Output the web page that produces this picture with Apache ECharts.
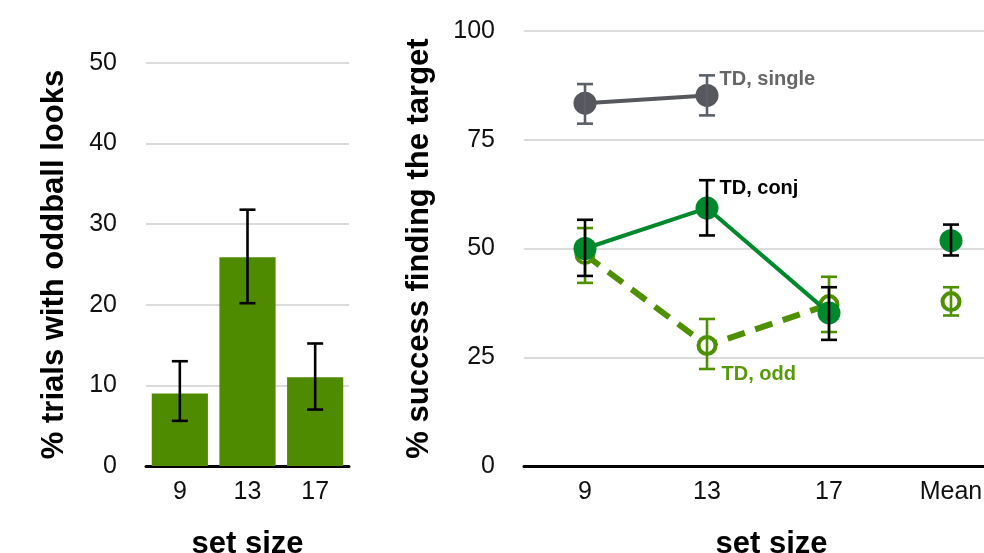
<!DOCTYPE html>
<html>
<head>
<meta charset="utf-8">
<script src="https://cdn.jsdelivr.net/npm/echarts@6/dist/echarts.min.js"></script>
<style>
  html, body { margin: 0; padding: 0; background: #fff; }
  #chart { width: 984px; height: 553px; }
</style>
</head>
<body>
<div id="chart"></div>
<script>
// left panel: % trials with oddball looks
const barCats = ['9', '13', '17'];
const oddballPct = [9.0, 25.9, 11.0];
const oddballLo = [5.6, 20.2, 7.0];
const oddballHi = [13.0, 31.8, 15.2];
const leftTicks = [0, 10, 20, 30, 40, 50];

// right panel: % success finding the target
const lineCats = ['9', '13', '17', 'Mean'];
const singleVals = [83.4, 85.2, '-', '-'];
const singleLo = [78.7, 80.6];
const singleHi = [87.8, 89.8];
const conjVals = [50.0, 59.3, 35.2, '-'];
const conjMean = ['-', '-', '-', 51.8];
const conjLo = [43.7, 53.0, 29.0, 48.4];
const conjHi = [56.6, 65.7, 41.1, 55.5];
const oddVals = [48.6, 27.7, 37.1, '-'];
const oddMean = ['-', '-', '-', 37.8];
const oddLo = [42.1, 22.3, 30.8, 34.6];
const oddHi = [54.7, 33.8, 43.5, 41.1];
const rightTicks = [0, 25, 50, 75, 100];

const FONT = 'Liberation Sans';
const BAR_GREEN = '#4e8b00';
const CONJ_GREEN = '#00882d';
const ODD_GREEN = '#4f9000';
const GREY = '#57585d';

const chart = echarts.init(document.getElementById('chart'));

// error bars as custom series
function errSeries(ax, lo, hi, color, z) {
  return {
    type: 'custom',
    xAxisIndex: ax,
    yAxisIndex: ax,
    z: z,
    silent: true,
    encode: { x: 0, y: [1, 2] },
    data: lo.map((l, i) => [i, l, hi[i]]),
    renderItem: function (params, api) {
      const top = api.coord([api.value(0), api.value(2)]);
      const bot = api.coord([api.value(0), api.value(1)]);
      const w = 8;
      const st = { stroke: color, lineWidth: 2.6 };
      return {
        type: 'group',
        children: [
          { type: 'line', shape: { x1: top[0], y1: top[1], x2: bot[0], y2: bot[1] }, style: st },
          { type: 'line', shape: { x1: top[0] - w, y1: top[1], x2: top[0] + w, y2: top[1] }, style: st },
          { type: 'line', shape: { x1: bot[0] - w, y1: bot[1], x2: bot[0] + w, y2: bot[1] }, style: st }
        ]
      };
    }
  };
}

function tagAt13(text, color, dy, dist) {
  return {
    show: true,
    position: 'right',
    distance: dist,
    offset: [0, dy],
    color: color,
    fontFamily: FONT,
    fontWeight: 'bold',
    fontSize: 20,
    formatter: p => (p.dataIndex === 1 ? text : '')
  };
}

const xAxisBase = {
  type: 'category',
  axisTick: { show: false },
  axisLine: { lineStyle: { color: '#000', width: 3 } },
  axisLabel: { color: '#111', fontFamily: FONT, fontSize: 25, margin: 14 },
  name: 'set size',
  nameLocation: 'middle',
  nameGap: 63,
  nameTextStyle: { color: '#000', fontFamily: FONT, fontWeight: 'bold', fontSize: 31 }
};

const yAxisBase = {
  type: 'value',
  axisLine: { show: false },
  axisTick: { show: false },
  splitLine: { lineStyle: { color: '#cfcfcf', width: 1.5 } },
  axisLabel: { color: '#111', fontFamily: FONT, fontSize: 25, margin: 29 },
  nameLocation: 'middle',
  nameTextStyle: { color: '#000', fontFamily: FONT, fontWeight: 'bold', fontSize: 31 }
};

const option = {
  animation: false,
  backgroundColor: '#fff',
  grid: [
    { left: 146, width: 203, top: 63, bottom: 87, outerBoundsMode: 'none' },
    { left: 524, width: 488, top: 31, bottom: 87, outerBoundsMode: 'none' }
  ],
  xAxis: [
    Object.assign({}, xAxisBase, { gridIndex: 0, data: barCats }),
    Object.assign({}, xAxisBase, {
      gridIndex: 1, data: lineCats,
      nameTextStyle: Object.assign({}, xAxisBase.nameTextStyle, { padding: [0, 0, 0, 7] })
    })
  ],
  yAxis: [
    Object.assign({}, yAxisBase, {
      gridIndex: 0, min: leftTicks[0], max: leftTicks[leftTicks.length - 1], interval: 10,
      name: '% trials with oddball looks', nameGap: 76
    }),
    Object.assign({}, yAxisBase, {
      gridIndex: 1, min: rightTicks[0], max: rightTicks[rightTicks.length - 1], interval: 25,
      name: '% success finding the target', nameGap: 89
    })
  ],
  series: [
    {
      type: 'bar', xAxisIndex: 0, yAxisIndex: 0,
      data: oddballPct, barCategoryGap: '17%',
      itemStyle: { color: BAR_GREEN }, z: 2
    },
    errSeries(0, oddballLo, oddballHi, '#000', 5),

    // TD, odd (dashed, open circles)
    {
      type: 'line', xAxisIndex: 1, yAxisIndex: 1, z: 2,
      data: oddVals, symbol: 'circle', symbolSize: 17, showSymbol: true,
      lineStyle: { color: ODD_GREEN, width: 6, type: [18, 11] },
      itemStyle: { color: '#fff', borderColor: ODD_GREEN, borderWidth: 4 },
      label: tagAt13('TD, odd', '#58990a', 29, 4)
    },
    {
      type: 'scatter', xAxisIndex: 1, yAxisIndex: 1, z: 2,
      data: oddMean, symbol: 'circle', symbolSize: 17,
      itemStyle: { color: '#fff', borderColor: ODD_GREEN, borderWidth: 4, opacity: 1 }
    },
    errSeries(1, oddLo, oddHi, ODD_GREEN, 3),

    // TD, conj
    {
      type: 'line', xAxisIndex: 1, yAxisIndex: 1, z: 4,
      data: conjVals, symbol: 'circle', symbolSize: 23, showSymbol: true,
      lineStyle: { color: CONJ_GREEN, width: 4 },
      itemStyle: { color: CONJ_GREEN },
      label: tagAt13('TD, conj', '#000', -20, 1)
    },
    {
      type: 'scatter', xAxisIndex: 1, yAxisIndex: 1, z: 4,
      data: conjMean, symbol: 'circle', symbolSize: 23,
      itemStyle: { color: CONJ_GREEN, opacity: 1 }
    },
    errSeries(1, conjLo, conjHi, '#000', 5),

    // TD, single
    {
      type: 'line', xAxisIndex: 1, yAxisIndex: 1, z: 4,
      data: singleVals, symbol: 'circle', symbolSize: 23, showSymbol: true,
      lineStyle: { color: GREY, width: 4 },
      itemStyle: { color: GREY },
      label: tagAt13('TD, single', '#666', -16, 1)
    },
    errSeries(1, singleLo, singleHi, '#5b5f68', 5)
  ]
};

chart.setOption(option);
</script>
</body>
</html>
